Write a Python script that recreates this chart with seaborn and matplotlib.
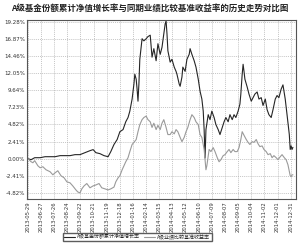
import pandas as pd
import matplotlib
matplotlib.use("Agg")
import matplotlib.pyplot as plt
import seaborn as sns

# ---------------- data ----------------
start_date = "2013-05-29"

fund_day = [0, 7, 15, 27, 38, 49, 60, 71, 82, 93, 104, 115, 126, 137, 144, 150, 159, 168, 177,
            183, 190, 197, 203, 210, 216, 221, 225, 230, 234, 236, 239, 241, 243, 245, 247, 252,
            256, 261, 265, 270, 274, 278, 283, 287, 292, 296, 300, 303, 305, 307, 309, 314, 318,
            323, 327, 329, 334, 336, 340, 342, 347, 351, 356, 358, 362, 367, 371, 376, 380, 384,
            387, 389, 391, 393, 398, 402, 406, 411, 415, 420, 424, 429, 433, 437, 442, 446, 451,
            455, 459, 464, 468, 470, 473, 475, 477, 479, 484, 488, 493, 497, 501, 506, 510, 515,
            519, 524, 528, 532, 537, 541, 546, 550, 554, 559, 563, 568, 572, 577, 579, 581, 583, 585]
fund_value = [0.00, -0.14, 0.14, 0.14, 0.28, 0.28, 0.28, 0.43, 0.43, 0.43, 0.57, 0.57, 0.85, 1.13,
              1.28, 0.85, 0.71, 0.43, 0.28, 1.00, 2.00, 2.70, 3.80, 4.10, 5.20, 5.80, 6.70, 8.40,
              10.50, 11.90, 11.20, 9.80, 8.10, 10.50, 14.00, 16.90, 16.60, 16.90, 17.20, 17.40,
              14.30, 15.50, 13.80, 16.20, 14.70, 15.70, 17.60, 19.00, 19.40, 17.60, 15.20, 13.60,
              14.00, 12.90, 12.30, 11.90, 10.50, 10.20, 11.50, 12.90, 12.30, 14.00, 14.70, 15.50,
              14.70, 13.80, 12.90, 11.20, 9.50, 8.40, 6.70, 4.10, 0.10, 4.10, 6.20, 5.50, 6.70,
              5.80, 4.80, 4.10, 3.40, 4.40, 5.20, 5.80, 5.20, 6.20, 5.50, 6.20, 5.80, 6.70, 7.70,
              9.10, 11.90, 13.30, 12.30, 11.20, 10.10, 9.10, 8.10, 8.60, 9.10, 9.40, 8.40, 8.60,
              7.50, 8.40, 6.90, 6.20, 5.80, 6.90, 8.40, 8.90, 8.60, 9.80, 10.40, 8.40, 6.20, 3.40,
              1.30, 1.80, 1.30, 1.60]

bench_day = [0, 7, 11, 15, 22, 27, 33, 40, 49, 55,
             60, 66, 73, 80, 86, 93, 99, 106, 110, 115,
             119, 124, 130, 137, 144, 150, 157, 163, 170, 177,
             183, 190, 194, 199, 203, 208, 212, 216, 221, 225,
             230, 234, 239, 243, 247, 252, 256, 261, 265, 270,
             274, 278, 283, 287, 292, 296, 300, 305, 309, 314,
             318, 323, 327, 331, 336, 340, 345, 349, 353, 358,
             362, 367, 371, 376, 380, 384, 389, 393, 395, 400,
             404, 409, 413, 418, 422, 426, 431, 435, 440, 444,
             448, 453, 457, 462, 466, 470, 473, 477, 482, 486,
             490, 495, 499, 504, 508, 512, 517, 521, 526, 530,
             535, 539, 543, 548, 552, 557, 561, 566, 570, 574,
             579, 581, 583, 585]
bench_value = [0.00, -0.43, -0.57, -0.28, -1.00, -1.28, -1.13, -1.56, -1.84, -2.27,
               -1.99, -1.70, -2.40, -2.70, -3.26, -3.40, -3.83, -4.40, -4.68, -4.82,
               -4.25, -3.83, -3.50, -4.10, -3.83, -3.70, -3.50, -4.10, -4.25, -4.40,
               -4.25, -4.00, -3.26, -2.70, -2.40, -1.56, -1.00, -0.43, 0.14, 1.00,
               2.00, 2.30, 2.70, 3.80, 4.80, 5.50, 5.80, 6.00, 5.50, 5.20,
               4.40, 5.00, 4.10, 4.70, 4.10, 5.00, 5.50, 4.40, 3.40, 3.40,
               3.80, 3.50, 4.10, 3.80, 3.00, 2.40, 3.00, 3.80, 4.40, 5.50,
               6.20, 5.80, 5.20, 4.80, 3.40, 3.00, 1.30, -1.56, -1.00, 1.30,
               1.00, 1.56, 1.00, 0.14, -0.43, -0.14, 0.43, 0.57, 1.00, 1.30,
               0.85, 1.30, 1.00, 1.00, 1.56, 2.70, 3.80, 3.30, 2.70, 2.30,
               2.00, 2.40, 2.30, 2.70, 2.10, 1.70, 1.80, 1.30, 1.00, 0.57,
               0.71, 0.14, 0.43, 0.14, -0.14, 0.28, 0.57, 0.14, -0.14, -0.85,
               -2.40, -2.55, -2.27, -2.27]

series_names = ["A级基金份额累计净值增长率", "A级业绩比较基准收益率"]
y_ticks = [-4.82, -2.41, 0.00, 2.41, 4.82, 7.23, 9.64, 12.05, 14.46, 16.87, 19.28]
x_tick_labels = ["2013-05-29", "2013-06-27", "2013-07-26", "2013-08-24", "2013-09-22",
                 "2013-10-21", "2013-11-19", "2013-12-18", "2014-01-16", "2014-02-14",
                 "2014-03-15", "2014-04-13", "2014-05-12", "2014-06-10", "2014-07-09",
                 "2014-08-07", "2014-09-05", "2014-10-04", "2014-11-02", "2014-12-01",
                 "2014-12-31"]
title = "A级基金份额累计净值增长率与同期业绩比较基准收益率的历史走势对比图"

# ---------------- build frames ----------------
t0 = pd.Timestamp(start_date)
df_fund = pd.DataFrame({"date": t0 + pd.to_timedelta(fund_day, unit="D"),
                        "value": fund_value, "series": series_names[0]})
df_bench = pd.DataFrame({"date": t0 + pd.to_timedelta(bench_day, unit="D"),
                         "value": bench_value, "series": series_names[1]})
df = pd.concat([df_fund, df_bench], ignore_index=True)

sns.set_style("white")
plt.rcParams["font.family"] = ["Noto Sans CJK SC", "DejaVu Sans"]
plt.rcParams["axes.unicode_minus"] = False

fig = plt.figure(figsize=(3.0, 2.45), dpi=100)
ax = fig.add_axes([0.09, 0.188, 0.897, 0.731])

sns.lineplot(data=df, x="date", y="value", hue="series",
             palette={series_names[0]: "#262626", series_names[1]: "#9a9a9a"},
             linewidth=0.8, ax=ax, legend=False, sort=False, estimator=None)

tick_dates = pd.to_datetime(x_tick_labels)
ax.set_xticks(tick_dates)
ax.set_xticklabels(x_tick_labels, rotation=90, fontsize=3.8, color="#333333",
                   family=["DejaVu Sans"])
ax.set_yticks(y_ticks)
ax.set_yticklabels([f"{v:.2f}%" for v in y_ticks], fontsize=4, color="#333333",
                   family=["DejaVu Sans"])
ax.set_xlim(t0 - pd.Timedelta(days=2), t0 + pd.Timedelta(days=592))
ax.set_ylim(-5.67, 19.56)
ax.set_xlabel("")
ax.set_ylabel("")
ax.tick_params(axis="both", length=0, pad=1.5)
ax.grid(True, linestyle=(0, (1.5, 1.5)), color="#b0b0b0", linewidth=0.5)
for s in ax.spines.values():
    s.set_color("#555555")
    s.set_linewidth(0.8)

fig.text(0.5, 0.967, title, ha="center", va="center", fontsize=6.1, fontweight="bold",
         color="#222222")

handles = [plt.Line2D([], [], color="#262626", lw=0.8),
           plt.Line2D([], [], color="#9a9a9a", lw=0.8)]
fig.legend(handles, series_names, loc="center", bbox_to_anchor=(0.457, 0.033), ncol=2,
           fontsize=3.6, frameon=True, fancybox=False, edgecolor="#333333",
           handlelength=2.2, handletextpad=0.4, columnspacing=0.8, borderpad=0.3,
           borderaxespad=0)

fig.savefig("out.png", dpi=100)
